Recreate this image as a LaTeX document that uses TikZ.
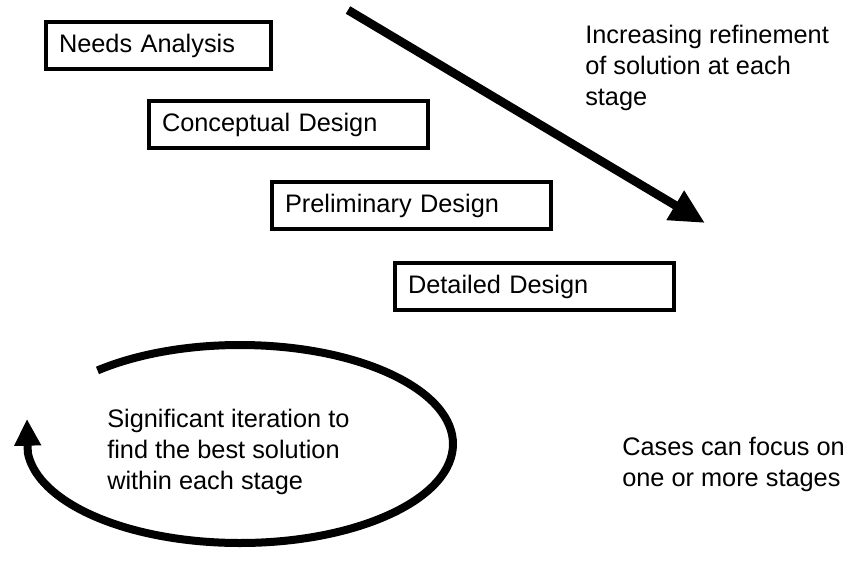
\documentclass[tikz,border=0pt]{standalone}
\usepackage{fontspec}
\setmainfont{Liberation Sans}
\usepackage{tikz}
\usetikzlibrary{arrows.meta}

\begin{document}
\begin{tikzpicture}[
    x=0.75pt, y=-0.75pt,
    stagebox/.style = {rectangle, draw, line width=3pt, anchor=north west,
                       text width=189.75pt, minimum height=35.25pt,
                       inner xsep=9.75pt, align=left,
                       font=\fontsize{19}{23}\selectfont},
    note/.style = {anchor=north west, inner sep=0pt, align=left,
                   font=\fontsize{19}{23.2}\selectfont},
    bigarrow/.style = {-{Triangle[length=26pt, width=24pt]}, line width=6.5pt},
    looparrow/.style = {-{Triangle[length=20pt, width=19pt]}, line width=6pt}
  ]
    \useasboundingbox (0,0) rectangle (854,565);

    % the four stages
    \node[stagebox, text width=149.25pt] (needs) at (44,20) {Needs Analysis};
    \node[stagebox] (concept) at (147,99) {Conceptual Design};
    \node[stagebox] (prelim) at (270,180) {Preliminary Design};
    \node[stagebox] (detail) at (393,261) {Detailed Design};

    % refinement arrow
    \coordinate (trendtop) at (348,10);
    \coordinate (trendtip) at (705,223);
    \draw[bigarrow] (trendtop) -- (trendtip);
    \node[note] (refine) at (585,25)
      {Increasing refinement\\of solution at each\\stage};

    % iteration loop
    \coordinate (loopcentre) at (240,444);
    \coordinate (looptip) at (27,419);
    \draw[looparrow] (loopcentre) ++(-132:213 and 99)
      arc[start angle=-132, end angle=175, x radius=213, y radius=99]
      -- (looptip);
    \node[note] (iterate) at (107,409)
      {Significant iteration to\\find the best solution\\within each stage};

    \node[note] (cases) at (622,437)
      {Cases can focus on\\one or more stages};
  \end{tikzpicture}
\end{document}
